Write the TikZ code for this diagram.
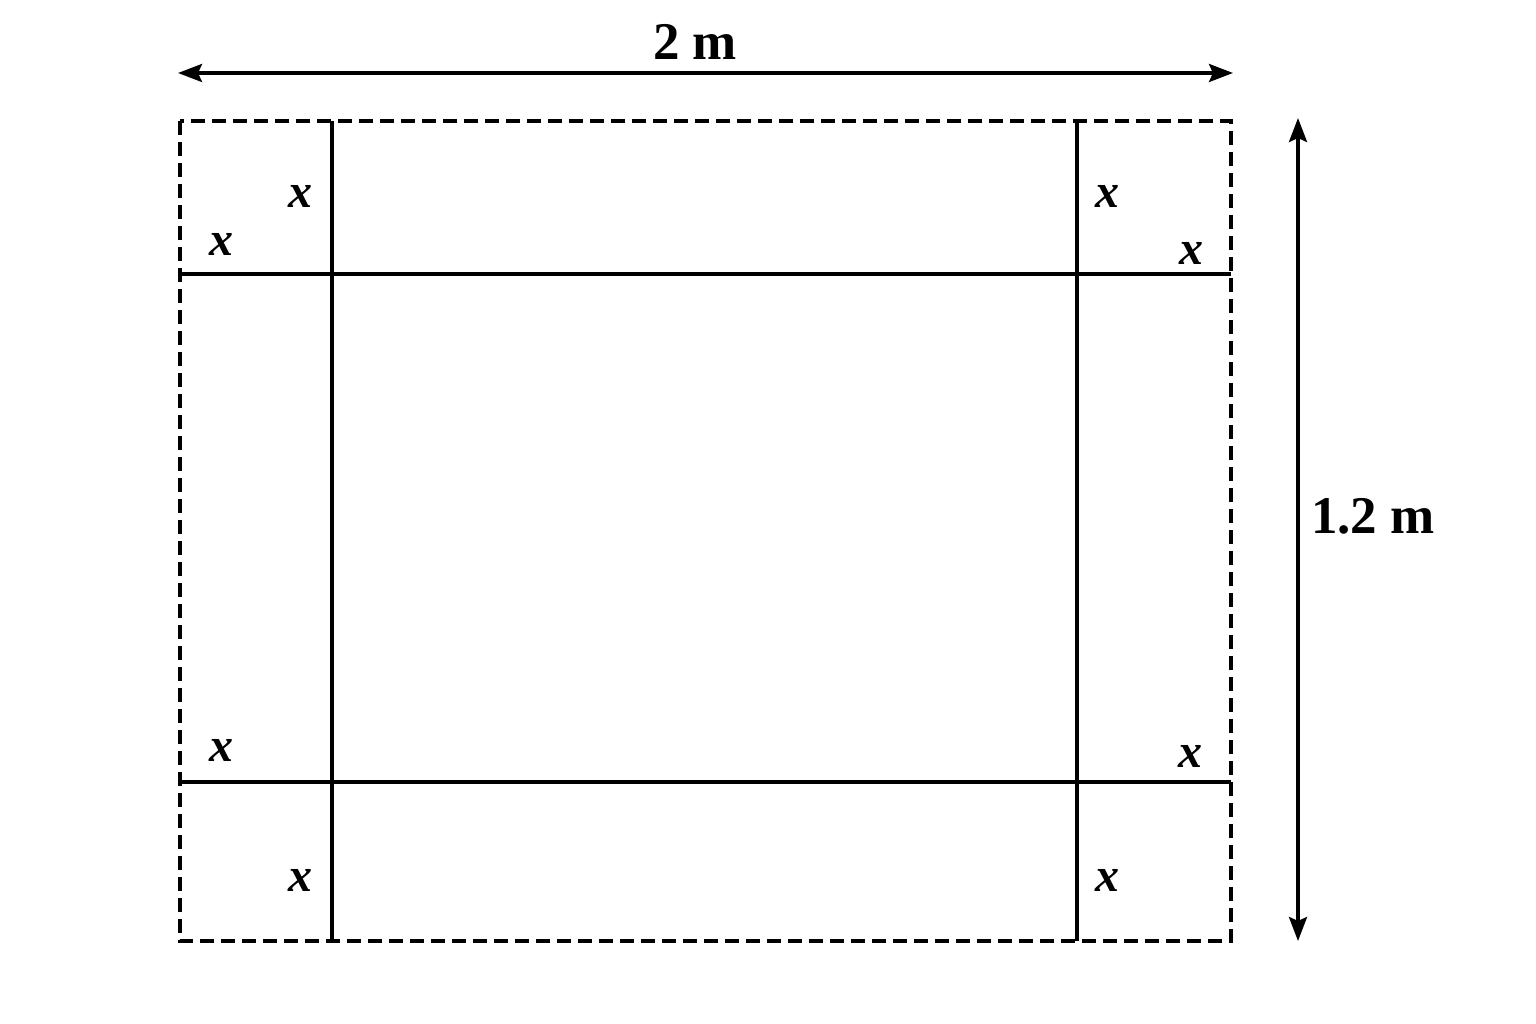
\documentclass[tikz,border=0pt]{standalone}
\usepackage{fontspec}
\setmainfont{Liberation Serif}
\usetikzlibrary{arrows.meta}
\begin{document}
\begin{tikzpicture}[x=1pt,y=-1pt,
  solidline/.style={line width=4.6pt},
  dashline/.style={line width=4.6pt,dash pattern=on 14pt off 7pt},
  dimline/.style={line width=3.4pt,{Stealth[length=24pt,width=18pt,inset=4pt]}-{Stealth[length=24pt,width=18pt,inset=4pt]}},
  xlab/.style={inner sep=0pt,font=\fontsize{48}{52}\selectfont\bfseries\itshape},
  dimlab/.style={inner sep=0pt,font=\fontsize{53}{58}\selectfont\bfseries}]
\useasboundingbox (0,0) rectangle (1536,1024);
\fill[white] (0,0) rectangle (1536,1024);
% outer dashed rectangle
\coordinate (tl) at (180,121);
\coordinate (br) at (1231,941);
\draw[dashline] (tl) rectangle (br);
% cut lines
\coordinate (v1t) at (332,121); \coordinate (v1b) at (332,941);
\coordinate (v2t) at (1077,121); \coordinate (v2b) at (1077,941);
\coordinate (h1l) at (180,274); \coordinate (h1r) at (1231,274);
\coordinate (h2l) at (180,782); \coordinate (h2r) at (1231,782);
\draw[solidline] (v1t) -- (v1b);
\draw[solidline] (v2t) -- (v2b);
\draw[solidline] (h1l) -- (h1r);
\draw[solidline] (h2l) -- (h2r);
% dimension arrows
\coordinate (wl) at (178,73); \coordinate (wr) at (1233,73);
\draw[dimline] (wl) -- (wr);
\coordinate (ht) at (1298,118); \coordinate (hb) at (1298,941);
\draw[dimline] (ht) -- (hb);
\node[dimlab] (w) at (695,42) {2 m};
\node[dimlab] (h) at (1373,516) {1.2 m};
% x labels
\node[xlab] (x1) at (300,196) {x};
\node[xlab] (x2) at (221,244) {x};
\node[xlab] (x3) at (1107,196) {x};
\node[xlab] (x4) at (1191,253) {x};
\node[xlab] (x5) at (221,750) {x};
\node[xlab] (x6) at (1190,756) {x};
\node[xlab] (x7) at (300,880) {x};
\node[xlab] (x8) at (1107,880) {x};
\end{tikzpicture}
\end{document}
